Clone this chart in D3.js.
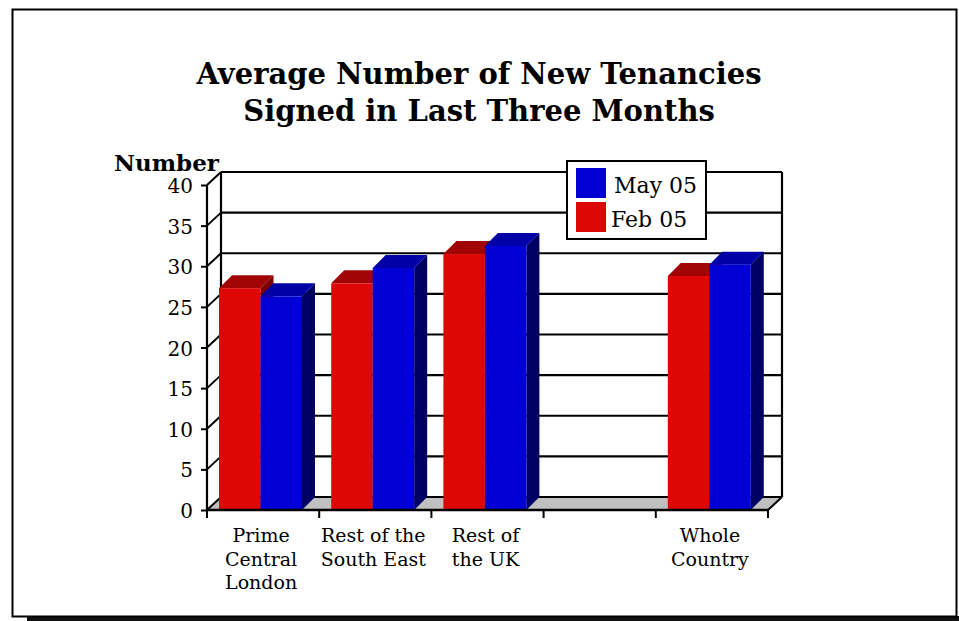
<!DOCTYPE html>
<html>
<head>
<meta charset="utf-8">
<script src="https://cdn.jsdelivr.net/npm/d3@7"></script>
<style>
  html, body { margin: 0; padding: 0; background: #fff; }
  svg { display: block; }
  text { font-family: "DejaVu Serif", "Liberation Serif", serif; fill: #000; }
</style>
</head>
<body>
<svg id="chart" width="959" height="621"></svg>
<script>
// Regions shown along the x axis (one slot is left empty)
const categories = [
  ["Prime", "Central", "London"],
  ["Rest of the", "South East"],
  ["Rest of", "the UK"],
  [],
  ["Whole", "Country"]
];
const seriesNames = ["Feb 05", "May 05"];
const feb05 = [27.3, 27.9, 31.5, null, 28.8];
const may05 = [26.3, 29.8, 32.5, null, 30.2];
const yTicks = [0, 5, 10, 15, 20, 25, 30, 35, 40];
const titleLines = ["Average Number of New Tenancies", "Signed in Last Three Months"];
const yTitle = "Number";

const colors = {
  "Feb 05": { front: "#dd0806", top: "#a00404", side: "#7a0000" },
  "May 05": { front: "#0000d4", top: "#0000a6", side: "#000064" }
};

const svg = d3.select("#chart");

// frame with drop shadow
svg.append("rect").attr("x", 27).attr("y", 616).attr("width", 940).attr("height", 5).attr("fill", "#111");
svg.append("rect").attr("x", 12.5).attr("y", 9.5).attr("width", 944).attr("height", 607)
  .attr("fill", "#fff").attr("stroke", "#000").attr("stroke-width", 2);

// plot geometry (oblique 3D projection)
const depthX = 14, depthY = -13;
const x0 = 207, x1 = 768;
const y = d3.scaleLinear().domain([0, 40]).range([510, 185]);
const idx = categories.map((d, i) => i);
const x = d3.scaleBand().domain(idx).range([x0, x1]).paddingInner(0).paddingOuter(0);
const xs = d3.scaleBand().domain(seriesNames).range([12, 95]).padding(0);

const g = svg.append("g");

// floor
g.append("polygon")
  .attr("points", [[x0, y(0)], [x1, y(0)], [x1 + depthX, y(0) + depthY], [x0 + depthX, y(0) + depthY]].map(p => p.join(",")).join(" "))
  .attr("fill", "#c0c0c0");

// back wall gridlines and side wall diagonals
yTicks.forEach(t => {
  g.append("line").attr("x1", x0 + depthX).attr("x2", x1 + depthX)
    .attr("y1", y(t) + depthY).attr("y2", y(t) + depthY)
    .attr("stroke", "#000").attr("stroke-width", 2.2);
  g.append("line").attr("x1", x0).attr("y1", y(t)).attr("x2", x0 + depthX).attr("y2", y(t) + depthY)
    .attr("stroke", "#000").attr("stroke-width", 2);
});
// back wall verticals
[x0 + depthX, x1 + depthX].forEach(xx => {
  g.append("line").attr("x1", xx).attr("x2", xx).attr("y1", y(0) + depthY).attr("y2", y(40) + depthY)
    .attr("stroke", "#000").attr("stroke-width", 2.2);
});
// right floor edge
g.append("line").attr("x1", x1).attr("y1", y(0)).attr("x2", x1 + depthX).attr("y2", y(0) + depthY)
  .attr("stroke", "#000").attr("stroke-width", 2);

// bars
const bd = 13;
categories.forEach((c, i) => {
  seriesNames.forEach(s => {
    const v = (s === "Feb 05" ? feb05 : may05)[i];
    if (v == null) return;
    const bx = x(i) + xs(s), bw = xs.bandwidth();
    const top = y(v), bot = y(0);
    const col = colors[s];
    g.append("polygon")
      .attr("points", [[bx + bw, top], [bx + bw + bd, top - bd], [bx + bw + bd, bot - bd], [bx + bw, bot]].map(p => p.join(",")).join(" "))
      .attr("fill", col.side);
    g.append("polygon")
      .attr("points", [[bx, top], [bx + bd, top - bd], [bx + bw + bd, top - bd], [bx + bw, top]].map(p => p.join(",")).join(" "))
      .attr("fill", col.top);
    g.append("rect").attr("x", bx).attr("y", top).attr("width", bw).attr("height", bot - top).attr("fill", col.front);
  });
});

// front y axis
g.append("line").attr("x1", x0).attr("x2", x0).attr("y1", y(0) + 1).attr("y2", y(40))
  .attr("stroke", "#000").attr("stroke-width", 2.2);
const yAxis = d3.axisLeft(y).tickValues(yTicks).tickSize(6).tickPadding(8);
const ya = svg.append("g").attr("transform", `translate(${x0},0)`).call(yAxis);
ya.select(".domain").remove();
ya.selectAll(".tick line").attr("stroke", "#000").attr("stroke-width", 2);
ya.selectAll(".tick text").attr("font-size", 20).attr("font-family", "DejaVu Serif")
  .attr("dy", "0.38em").attr("fill", "#000");

// front x axis
g.append("line").attr("x1", x0 - 1).attr("x2", x1 + 1).attr("y1", y(0)).attr("y2", y(0))
  .attr("stroke", "#000").attr("stroke-width", 2.5);
const edges = idx.map(i => x(i)).concat([x1]);
edges.forEach(e => {
  g.append("line").attr("x1", e).attr("x2", e).attr("y1", y(0)).attr("y2", y(0) + 8)
    .attr("stroke", "#000").attr("stroke-width", 2);
});
categories.forEach((lines, i) => {
  const cx = x(i) + x.bandwidth() / 2 - 2;
  const t = svg.append("text").attr("text-anchor", "middle").attr("font-size", 19).attr("x", cx);
  lines.forEach((ln, k) => t.append("tspan").attr("x", cx).attr("y", 542 + k * 23.5).text(ln));
});

// axis title
svg.append("text").attr("x", 114).attr("y", 171).attr("font-size", 23).attr("font-weight", "bold").text(yTitle);

// chart title
titleLines.forEach((t, k) => {
  svg.append("text").attr("x", 479).attr("y", 84 + k * 37).attr("text-anchor", "middle")
    .attr("font-size", 29).attr("font-weight", "bold").text(t);
});

// legend
const lg = svg.append("g");
lg.append("rect").attr("x", 567).attr("y", 161).attr("width", 139).attr("height", 78)
  .attr("fill", "#fff").attr("stroke", "#000").attr("stroke-width", 2);
["May 05", "Feb 05"].forEach((s, k) => {
  lg.append("rect").attr("x", 576).attr("y", 168 + k * 34).attr("width", 30).attr("height", 30).attr("fill", colors[s].front);
  lg.append("text").attr("x", k === 0 ? 614 : 611).attr("y", 193 + k * 34).attr("font-size", 22).text(s);
});
</script>
</body>
</html>
